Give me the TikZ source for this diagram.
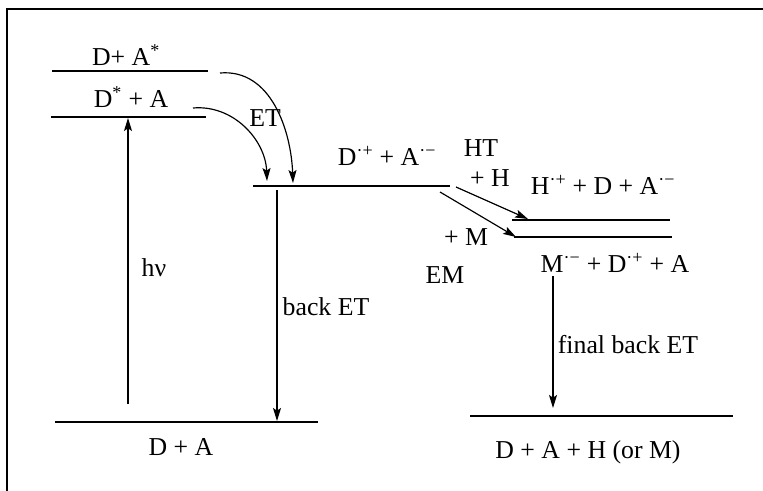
\documentclass[tikz,border=0pt]{standalone}
\usepackage{fontspec}
\setmainfont{Liberation Serif}
\usepackage{tikz}
\usetikzlibrary{arrows.meta}

\newcommand{\rc}{\textsuperscript{·+}}
\newcommand{\ra}{\textsuperscript{·−}}

\begin{document}
\begin{tikzpicture}[
    x=0.3mm, y=-0.3mm,
    every node/.style={font=\fontsize{22}{26}\selectfont, inner sep=0pt},
    level/.style={line width=1.3pt},
    frame/.style={line width=1.7pt},
    trans/.style={line width=1pt, -{Stealth[length=3.9mm, width=2.4mm, inset=0.8mm]}}
  ]
  \useasboundingbox (0,0) rectangle (763,491);

  % ── Frame (open to the right and bottom) ────────────────────────────────
  \draw[frame] (7,491) |- (763,9);

  % ── Levels ──────────────────────────────────────────────────────────────
  % pixel coordinates of the reference, y counted downwards
  \draw[level] (52,71)   -- (208,71);    % D + A*
  \draw[level] (51,117)  -- (206,117);   % D* + A
  \draw[level] (253,186) -- (450,186);   % charge-separated state
  \draw[level] (512,220) -- (670,220);   % H-pathway
  \draw[level] (514,237) -- (672,237);   % M-pathway
  \draw[level] (55,422)  -- (318,422);   % ground state
  \draw[level] (470,416) -- (733,416);   % final state

  \node (lvlAex)  at (126,55)  {D+ A\textsuperscript{*}};
  \node (lvlDex)  at (131,97)  {D\textsuperscript{*} + A};
  \node (lvlCS)   at (387,156) {D\rc{} + A\ra};
  \node (lvlH)    at (603,185) {H\rc{} + D + A\ra};
  \node (lvlM)    at (615,263) {M\ra{} + D\rc{} + A};
  \node (lvlGS)   at (181,447) {D + A};
  \node (lvlFin)  at (588,452) {D + A + H (or M)};

  % ── Transition end points ───────────────────────────────────────────────
  \coordinate (hvS)   at (128,404);
  \coordinate (hvT)   at (128,118);
  \coordinate (etAS)  at (220,73);
  \coordinate (etAT)  at (293,183);
  \coordinate (etDS)  at (193,108);
  \coordinate (etDT)  at (267,181);
  \coordinate (bkS)   at (277,190);
  \coordinate (bkT)   at (277,421);
  \coordinate (htS)   at (456,187);
  \coordinate (htT)   at (528,219);
  \coordinate (emS)   at (440,192);
  \coordinate (emT)   at (516,237);
  \coordinate (fbS)   at (553,276);
  \coordinate (fbT)   at (553,408);

  % ── Transitions ─────────────────────────────────────────────────────────
  \draw[trans] (hvS) -- (hvT);
  \draw[trans] (etAS) to[out=5, in=92] (etAT);
  \draw[trans] (etDS) to[out=5, in=92] (etDT);
  \draw[trans] (bkS) -- (bkT);
  \draw[trans] (htS) -- (htT);
  \draw[trans] (emS) -- (emT);
  \draw[trans] (fbS) -- (fbT);

  \node (hv)     at (154,268) {hν};
  \node (et)     at (265,118) {ET};
  \node (bkET)   at (326,307) {back ET};
  \node (ht)     at (481,148) {HT};
  \node (plusH)  at (490,178) {+ H};
  \node (plusM)  at (466,237) {+ M};
  \node (em)     at (445,275) {EM};
  \node (fbET)   at (628,345) {final back ET};

\end{tikzpicture}
\end{document}
